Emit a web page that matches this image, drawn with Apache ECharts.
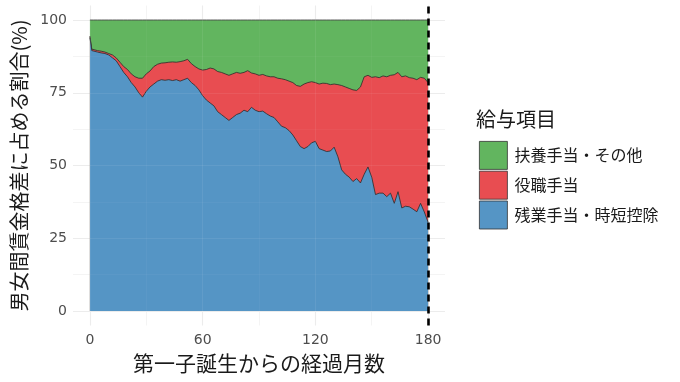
<!DOCTYPE html>
<html>
<head>
<meta charset="utf-8">
<script src="https://cdn.jsdelivr.net/npm/echarts@6/dist/echarts.min.js"></script>
<style>
html,body{margin:0;padding:0;background:#fff;}
#c{width:680px;height:382px;}
</style>
</head>
<body>
<div id="c"></div>
<script>
// months since first child's birth
const months = [0,1,2,4,6,8,10,12,14,16,18,20,22,24,26,28,30,32,34,36,38,40,42,44,46,48,50,52,54,56,58,60,62,64,66,68,70,72,74,76,78,80,82,84,86,88,90,92,94,96,98,100,102,104,106,108,110,112,114,116,118,120,122,124,126,128,130,132,134,136,138,140,142,144,146,148,150,152,154,156,158,160,162,164,166,168,170,172,174,176,178,180];
// 残業手当・時短控除 (%)
const overtime = [94,89.5,89,89,88.7,88.5,88,87,86,84,82,80.5,78.5,77,75,73.5,75.5,77,78,79,79.5,79.3,79.5,79.2,79.5,79,79.5,80,78.5,77.5,76,74,72.5,71.5,70.5,68.5,67.5,66.5,65.5,66.5,67.5,68,69,68.5,70,69,68.5,68.7,67.8,67,66.5,65,63.5,63,62,60.5,58.5,56.5,55.8,56.5,57.8,58.3,55.8,55.3,54.8,55,56.3,53,48.5,47,46,44.5,45.5,44,47,49.5,46,40,40.5,40.5,39.3,40.5,37,41,35.4,36,35.8,35,34.1,37,34,30.5];
// 役職手当 (%)
const position = [0.5,0.5,0.7,0.5,0.6,0.5,0.5,1,1,1.5,2,2.5,3,3.5,5,6.5,6,5.5,6,5.8,5.7,6,6,6.4,6,6.7,6.5,6.5,6.5,6.5,7.2,8.8,10.5,12,12.7,13.8,14.5,15,15.5,15,14.5,13.7,13,14.1,11.8,12.5,12.5,12.6,13,13.5,14,15,16.3,16.5,17,18,19,20.7,22.2,22,21,20.2,22.2,23,23.4,22.8,21.7,24.8,29,30,30.5,31.5,30.3,33,33.5,31.5,34.3,40.5,39.7,40.3,41.2,40.5,44.2,41,45.1,44.8,44.4,45,45.4,43.3,46,48];
// 扶養手当・その他 (%)
const family = [5.5,10,10.3,10.5,10.7,11,11.5,12,13,14.5,16,17,18.5,19.5,20,20,18.5,17.5,16,15.2,14.8,14.7,14.5,14.4,14.5,14.3,14,13.5,15,16,16.8,17.2,17,16.5,16.8,17.7,18,18.5,19,18.5,18,18.3,18,17.4,18.2,18.5,19,18.7,19.2,19.5,19.5,20,20.2,20.5,21,21.5,22.5,22.8,22,21.5,21.2,21.5,22,21.7,21.8,22.2,22,22.2,22.5,23,23.5,24,24.2,23,19.5,19,19.7,19.5,19.8,19.2,19.5,19,18.8,18,19.5,19.2,19.8,20,20.5,19.7,20,21.5];

const xTicks = [0,60,120,180];
const xMinor = [30,90,150];
const yTicks = [0,25,50,75,100];
const yMinor = [12.5,37.5,62.5,87.5];
const cutoffMonth = 180;

const names = ['残業手当・時短控除','役職手当','扶養手当・その他'];
const values = [overtime, position, family];
const colors = ['#5595c5','#e84d51','#62b55f'];

const FONT = '"Noto Sans CJK JP", "Noto Sans", sans-serif';
const NUMFONT = '"DejaVu Sans", sans-serif';

function gridData(){
  const g = [];
  xTicks.forEach(v=>g.push({xAxis:v, lineStyle:{width:1.1}}));
  xMinor.forEach(v=>g.push({xAxis:v, lineStyle:{width:0.55}}));
  yTicks.forEach(v=>g.push({yAxis:v, lineStyle:{width:1.1}}));
  yMinor.forEach(v=>g.push({yAxis:v, lineStyle:{width:0.55}}));
  return g;
}

const series = [{
  type:'line', data:[], z:1, silent:true,
  markLine:{z:1, silent:true, symbol:'none', animation:false, label:{show:false},
    lineStyle:{color:'#ebebeb', type:'solid'}, data:gridData()}
}];
// cumulative stacking (bottom: overtime, then position, then family)
let cum = months.map(()=>0);
const layers = values.map(arr=>{ cum = cum.map((c,i)=>c+arr[i]); return cum.slice(); });
// draw top layer first so lower layers paint over it
[2,1,0].forEach(k=>{
  series.push({
    name:names[k], type:'line', z:2+(2-k),
    data: months.map((m,i)=>[m, layers[k][i]]),
    showSymbol:false, symbol:'none',
    lineStyle:{color:'#2b2b2b', width:0.8},
    itemStyle:{color:colors[k]},
    areaStyle:{color:colors[k], opacity:1, origin:0},
    emphasis:{disabled:true}
  });
});
// faint grid showing through the areas
series.push({
  type:'line', data:[], z:6, silent:true,
  markLine:{z:6, silent:true, symbol:'none', animation:false, label:{show:false},
    lineStyle:{color:'rgba(255,255,255,0.07)', type:'solid'}, data:gridData()}
});
series.push({
  type:'line', data:[], z:8, silent:true,
  markLine:{z:8, silent:true, symbol:'none', animation:false, label:{show:false},
    lineStyle:{color:'#000', width:2.6, type:[7,5]}, data:[{xAxis:cutoffMonth}]}
});

const chart = echarts.init(document.getElementById('c'), null, {renderer:'canvas'});
chart.setOption({
  animation:false,
  backgroundColor:'#fff',
  textStyle:{fontFamily:FONT},
  grid:{left:73, right:235, top:5.5, bottom:56.5},
  title:{text:'給与項目', left:471, top:104, textStyle:{fontFamily:FONT, fontSize:20, fontWeight:'normal', color:'#1a1a1a'}},
  legend:{
    orient:'vertical', left:474, top:136, itemWidth:28, itemHeight:28, itemGap:1,
    icon:'rect',
    textStyle:{fontFamily:FONT, fontSize:16, color:'#1a1a1a', padding:[0,0,0,2]},
    data:[2,1,0].map(k=>({name:names[k], itemStyle:{color:colors[k], borderColor:'#333', borderWidth:0.8}}))
  },
  xAxis:{
    type:'value', min:-9, max:189,
    name:'第一子誕生からの経過月数', nameLocation:'middle', nameGap:24,
    nameTextStyle:{fontFamily:FONT, fontSize:21, color:'#1a1a1a'},
    axisLine:{show:false}, axisTick:{show:false}, splitLine:{show:false},
    axisLabel:{customValues:xTicks, fontSize:14, color:'#4d4d4d', margin:8, fontFamily:NUMFONT}
  },
  yAxis:{
    type:'value', min:-5, max:105,
    name:'男女間賃金格差に占める割合(%)', nameLocation:'middle', nameGap:43, nameRotate:90,
    nameTextStyle:{fontFamily:FONT, fontSize:20, color:'#1a1a1a'},
    axisLine:{show:false}, axisTick:{show:false}, splitLine:{show:false},
    axisLabel:{customValues:yTicks, fontSize:14, color:'#4d4d4d', margin:6, fontFamily:NUMFONT}
  },
  series:series
});
</script>
</body>
</html>
